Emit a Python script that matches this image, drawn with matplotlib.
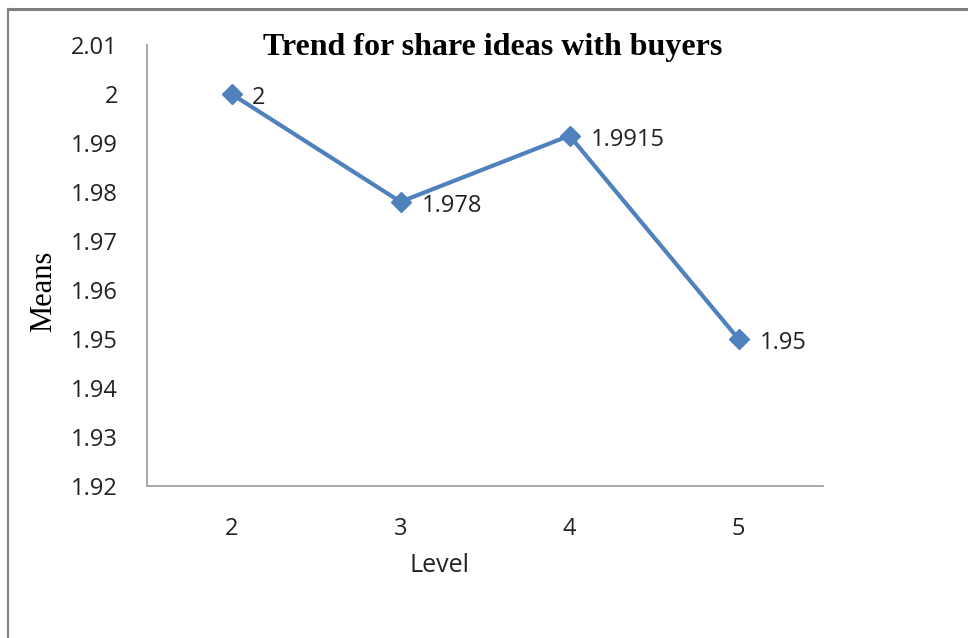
import matplotlib.pyplot as plt
from matplotlib.lines import Line2D

# values
levels = ["2", "3", "4", "5"]
means = [2.0, 1.978, 1.9915, 1.95]
point_labels = ["2", "1.978", "1.9915", "1.95"]
yticks = [1.92, 1.93, 1.94, 1.95, 1.96, 1.97, 1.98, 1.99, 2.00, 2.01]
ytick_labels = ["1.92", "1.93", "1.94", "1.95", "1.96", "1.97", "1.98", "1.99", "2", "2.01"]

W, H = 968, 638
fig = plt.figure(figsize=(W / 100, H / 100), dpi=100)
ax = fig.add_axes([147 / W, 1 - 486 / H, (823 - 147) / W, (486 - 45) / H])

line_col = "#4F81BD"
x = list(range(len(levels)))
ax.plot(x, means, color=line_col, lw=3.0, marker="D", markersize=10,
        markerfacecolor=line_col, markeredgecolor=line_col, zorder=3)

for xi, yi, lab in zip(x, means, point_labels):
    ax.annotate(lab, (xi, yi), xytext=(15, -1), textcoords="offset points",
                ha="left", va="center_baseline", fontsize=17, family="Open Sans", color="#222222")

ax.set_xlim(-0.5, len(levels) - 0.5)
ax.set_ylim(1.92, 2.01)
ax.set_xticks(x)
ax.set_xticklabels(levels)
ax.set_yticks(yticks)
ax.set_yticklabels(ytick_labels)
ax.tick_params(length=0, labelsize=17, colors="#222222")
ax.tick_params(axis="x", pad=22)
ax.tick_params(axis="y", pad=21)
for lab in ax.get_xticklabels() + ax.get_yticklabels():
    lab.set_family("Open Sans")

for s in ["top", "right"]:
    ax.spines[s].set_visible(False)
for s in ["left", "bottom"]:
    ax.spines[s].set_color("#A0A0A0")
    ax.spines[s].set_linewidth(1.3)

fig.text(493 / W, 1 - 48 / H, "Trend for share ideas with buyers", ha="center", va="center",
         fontsize=23, fontweight="bold", family="Liberation Serif")
fig.text(44 / W, 1 - 291 / H, "Means", rotation=90, ha="center", va="center",
         fontsize=22, family="Liberation Serif")
fig.text(440 / W, 1 - 565 / H, "Level", ha="center", va="center",
         fontsize=18, family="Open Sans", color="#222222")

# outer chart frame (only top and left edges visible in the crop)
fig.add_artist(Line2D([8 / W, 1], [1 - 9 / H, 1 - 9 / H], color="#808080", lw=2.2))
fig.add_artist(Line2D([8 / W, 8 / W], [0, 1 - 9 / H], color="#808080", lw=1.5))

fig.savefig("out.png", dpi=100)
